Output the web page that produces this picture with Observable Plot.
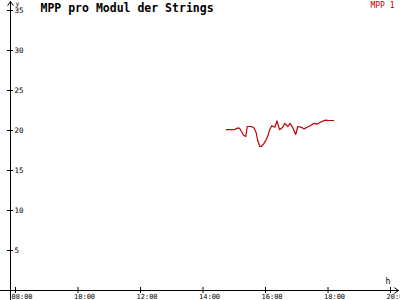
<!DOCTYPE html>
<html>
<head>
<meta charset="utf-8">
<script src="https://cdn.jsdelivr.net/npm/d3@7"></script>
<script src="https://cdn.jsdelivr.net/npm/@observablehq/plot@0.6"></script>
<style>
  html, body { margin: 0; padding: 0; background: #fff; }
  #chart svg { display: block; }
</style>
</head>
<body>
<div id="chart"></div>
<script>
// ---- data ----
const seriesName = "MPP 1";
const titleText = "MPP pro Modul der Strings";
const times = ["14:45","15:00","15:06","15:10","15:15","15:18","15:22","15:25","15:33","15:38",
  "15:42","15:45","15:49","15:52","15:57","16:01","16:05","16:08","16:12","16:18",
  "16:22","16:27","16:33","16:37","16:43","16:47","16:52","16:58","17:02","17:09",
  "17:14","17:20","17:26","17:33","17:40","17:47","17:55","18:02","18:11"];
const values = [20.1,20.1,20.3,20.3,19.75,19.4,19.25,20.5,20.5,20.3,
  19.75,18.75,18.0,18.0,18.4,18.8,19.4,20.1,20.6,20.4,
  21.2,20.1,20.4,20.9,20.5,20.9,20.4,19.5,20.5,20.4,
  20.2,20.4,20.6,20.9,20.8,21.1,21.3,21.25,21.25];
const xTickHours = [8, 10, 12, 14, 16, 18, 20];
const xTickLabels = ["08:00", "10:00", "12:00", "14:00", "16:00", "18:00", "20:00"];
const yTicks = [5, 10, 15, 20, 25, 30, 35];

const toHour = s => { const [h, m] = s.split(":").map(Number); return h + m / 60; };
const data = times.map((t, i) => ({ hour: toHour(t), value: values[i] }));

// pixel -> data helpers for axis decorations (scale: 8h..20h -> 15..390, 0..35 -> 290..10)
const hx = px => 8 + (px - 15) * 12 / 375;
const vy = py => (290 - py) * 35 / 280;

const mono = "DejaVu Sans Mono, monospace";
const red = "#c00000";

const chart = Plot.plot({
  width: 400,
  height: 300,
  margin: 0,
  x: { domain: [8, 20], range: [15, 390], axis: null },
  y: { domain: [0, 35], range: [290, 10], axis: null },
  style: { background: "#fff", fontFamily: mono },
  marks: [
    // axes
    Plot.arrow([0], { x1: hx(10), y1: vy(300), x2: hx(10), y2: vy(1), stroke: "#000", strokeWidth: 1, headLength: 7, headAngle: 70 }),
    Plot.arrow([0], { x1: hx(0), y1: 0, x2: hx(398), y2: 0, stroke: "#000", strokeWidth: 1, headLength: 7, headAngle: 70 }),
    Plot.ruleY(yTicks, { y: d => d, x1: hx(7), x2: hx(13), stroke: "#000" }),
    Plot.text(yTicks, { x: hx(13), y: d => d, text: d => String(d), textAnchor: "start", dx: 1, fontSize: 7.5, fill: "#000" }),
    Plot.ruleX(xTickHours, { x: d => d, y1: vy(293), y2: vy(287), stroke: "#000" }),
    Plot.text(xTickHours, { x: d => d, y: vy(296), text: (d, i) => xTickLabels[i], textAnchor: "start", dx: -4, fontSize: 7, fill: "#000" }),
    Plot.text(["y"], { x: hx(15), y: vy(3), text: d => d, textAnchor: "start", fontSize: 6.5, fill: "#000" }),
    Plot.text(["h"], { x: hx(385), y: vy(281), text: d => d, textAnchor: "start", fontSize: 8, fill: "#000" }),
    // title and legend
    Plot.text([titleText], { x: hx(40), y: vy(8), text: d => d, textAnchor: "start", fontSize: 11.5, fontWeight: "bold", fill: "#000" }),
    Plot.text([seriesName], { x: hx(394), y: vy(4.5), text: d => d, textAnchor: "end", fontSize: 8, fill: red }),
    // series
    Plot.line(data, { x: "hour", y: "value", stroke: red, strokeWidth: 1.2 })
  ]
});
document.getElementById("chart").append(chart);
</script>
</body>
</html>
